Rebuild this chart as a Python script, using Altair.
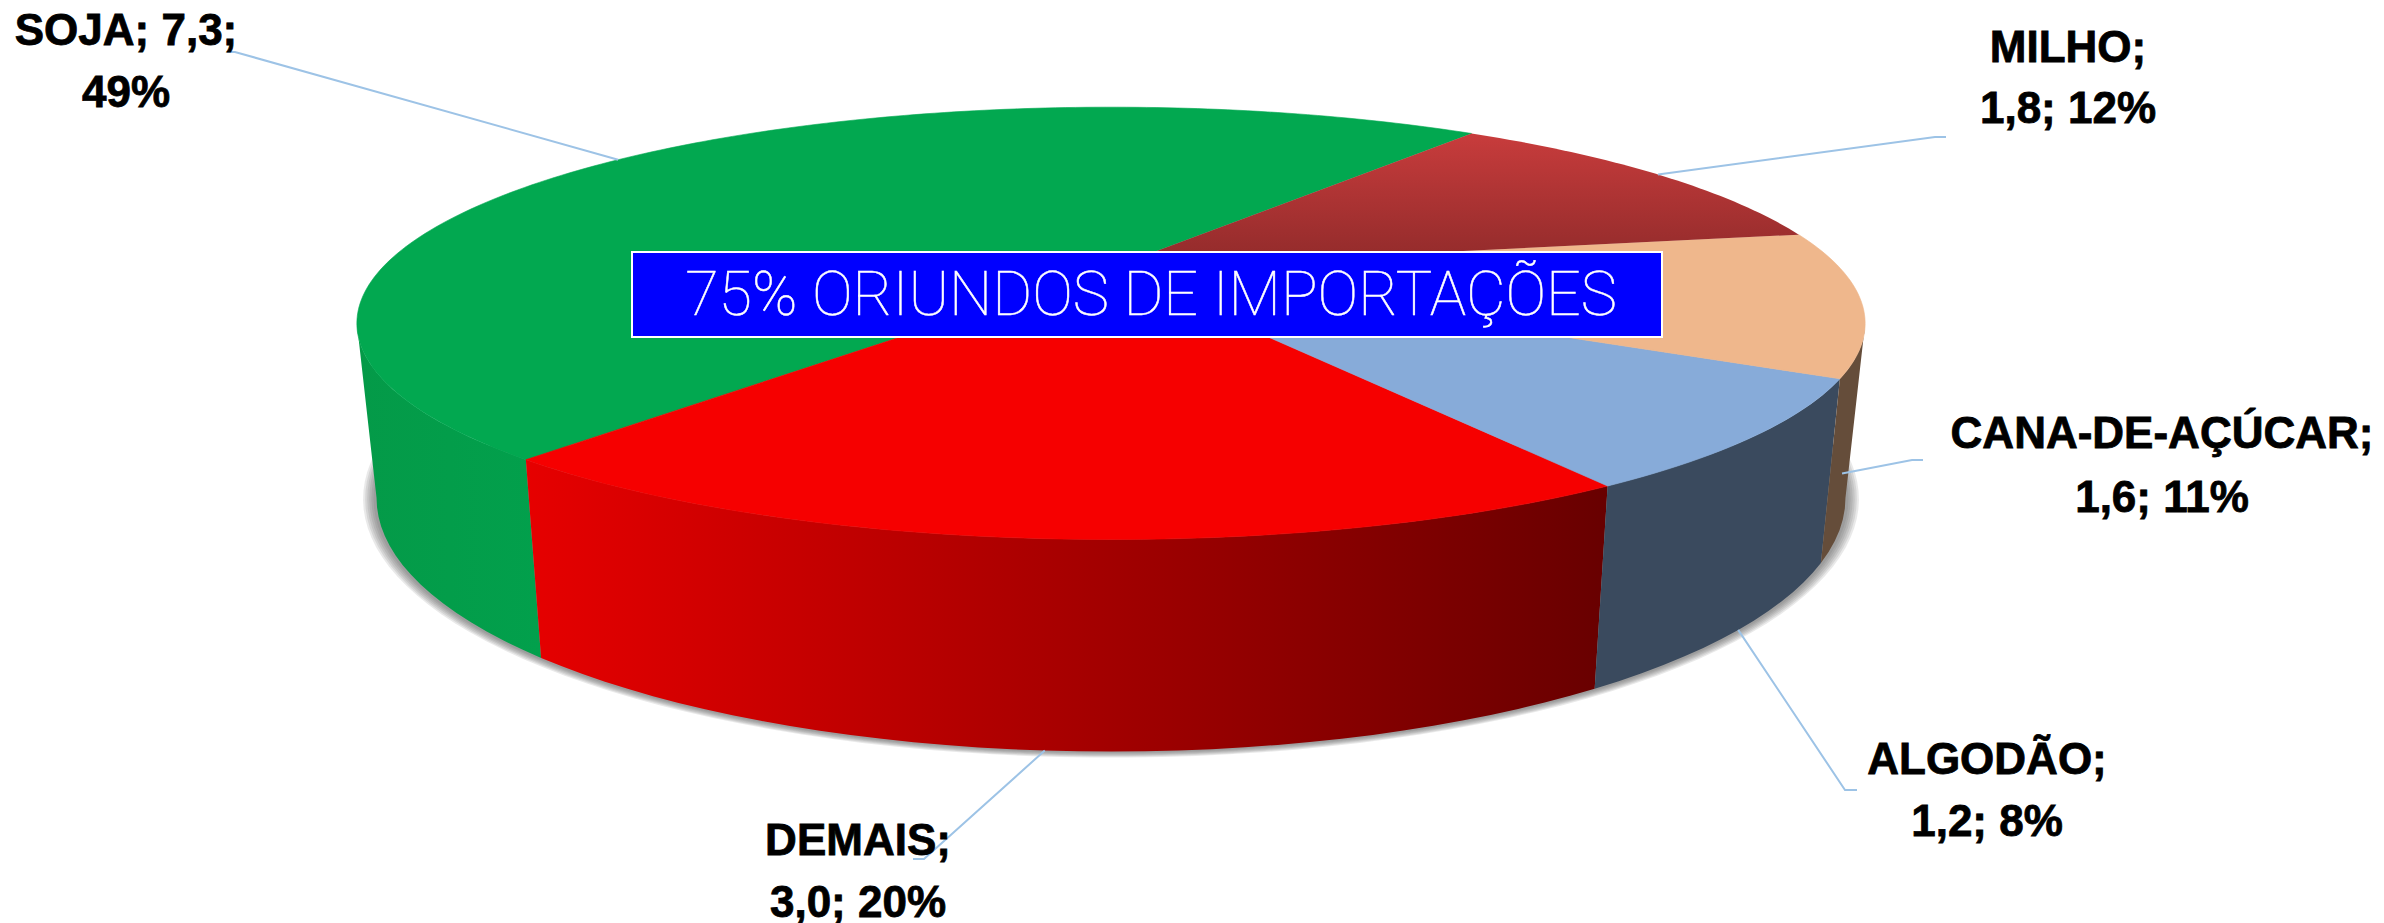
import math
import altair as alt

# --- data -------------------------------------------------------------
categories = ["SOJA", "DEMAIS", "ALGODÃO", "CANA-DE-AÇÚCAR", "MILHO"]
values = [7.3, 3.0, 1.2, 1.6, 1.8]
label_line1 = ["SOJA; 7,3;", "DEMAIS;", "ALGODÃO;", "CANA-DE-AÇÚCAR;", "MILHO;"]
label_line2 = ["49%", "3,0; 20%", "1,2; 8%", "1,6; 11%", "1,8; 12%"]
title_text = "75% ORIUNDOS DE IMPORTAÇÕES"

# --- styles -----------------------------------------------------------
grad = lambda x1, y1, x2, y2, stops: alt.LinearGradient(
    gradient="linear", x1=x1, y1=y1, x2=x2, y2=y2,
    stops=[alt.GradientStop(color=c, offset=o) for o, c in stops])
top_fill = ["#02A850", "#F60000", "#87ABD9", "#EFB78C",
            grad(0, 0, 0, 1, [(0, "#C83C3C"), (1, "#8F2A2A")])]
side_fill = [grad(0, 0, 1, 0, [(0, "#049A48"), (1, "#02A04C")]),
             grad(0, 0, 1, 0, [(0, "#E60000"), (1, "#680000")]),
             "#3A4A5E", "#654D3A", "#8F2A2A"]
LEADER = "#9DC3E6"

# --- layout (page pixels) ---------------------------------------------
W, H, M = 2384, 923, 8
START = 53.4
CX, CY, A, B, P = 1111, 268, 729, 202, 0.256      # top face
BX, BY, BA, BB = 1111, 433, 710, 237              # bottom face
label_x = [126, 858, 1987, 2162, 2068]
base_1 = [45, 855, 774, 448, 62]
base_2 = [107, 917, 836, 512, 123]
elbow = [[(235, 52), (227, 52)], [(924, 859), (913, 859)], [(1845, 790), (1857, 790)],
         [(1912, 460), (1923, 460)], [(1935, 137), (1946, 137)]]
leader_on_bottom = [False, True, True, True, False]
BOX = (632, 252, 1662, 337)
SIDE_MIN, SIDE_MAX = 194.8, 345.2


def proj(deg, ax, ay, aa, ab):
    X, Y = math.cos(math.radians(deg)), math.sin(math.radians(deg))
    w = 1 + P * Y
    return [ax + aa * X / w - M, ay - ab * Y / w - M]


def top(deg):
    return proj(deg, CX, CY, A, B)


def bot(deg):
    return proj(deg, BX, BY, BA, BB)


def arange(a, b, n=2.0):
    k = max(2, int(abs(b - a) / n) + 1)
    return [a + (b - a) * i / (k - 1) for i in range(k)]


def feature(kind, coords):
    return {"type": "Feature", "properties": {},
            "geometry": {"type": kind, "coordinates": coords}}


def shape(feat, **mark):
    return alt.Chart(alt.Data(values=[feat])).mark_geoshape(**mark).project(
        type="identity", scale=1, translate=[0, 0])


# slice boundaries from values
total = sum(values)
spans, a0 = [], START
for v in values:
    a1 = a0 + v / total * 360
    spans.append((a0, a1))
    a0 = a1

layers = []

# shadow
for k in range(6):
    dx, dy = 3 + 2.0 * k, 1 + 0.7 * k
    pts = [proj(d, BX, BY, BA + dx, BB + dy) for d in arange(183, 357)]
    layers.append(shape(feature("Polygon", [pts + [pts[0]]]),
                        fill="#555555", opacity=0.13, strokeWidth=0))

# sides (visible near half only)
for (a, b), fill in zip(spans, side_fill):
    for lo, hi in ((a, b), (a - 360, b - 360), (a + 360, b + 360)):
        s, e = max(lo, SIDE_MIN), min(hi, SIDE_MAX)
        if e > s:
            ds = arange(s, e)
            pts = [top(d) for d in ds] + [bot(d) for d in reversed(ds)]
            layers.append(shape(feature("Polygon", [pts + [pts[0]]]),
                                fill=fill, strokeWidth=0))

# top face
apex = [CX - M, CY - M]
for (a, b), fill in zip(spans, top_fill):
    pts = [apex] + [top(d) for d in arange(a, b, 1.0)] + [apex]
    mk = dict(fill=fill, strokeWidth=0)
    if isinstance(fill, str):
        mk = dict(fill=fill, stroke=fill, strokeWidth=0.6)
    layers.append(shape(feature("Polygon", [pts]), **mk))

# leaders
for (a, b), on_b, el in zip(spans, leader_on_bottom, elbow):
    mid = (a + b) / 2
    start = bot(mid) if on_b else top(mid)
    line = [start] + [[x - M, y - M] for x, y in el]
    layers.append(shape(feature("LineString", line), filled=False,
                        stroke=LEADER, strokeWidth=2))

# title box
x0, y0, x1, y1 = [c - M for c in BOX]
layers.append(shape(feature("Polygon", [[[x0, y0], [x1, y0], [x1, y1], [x0, y1], [x0, y0]]]),
                    fill="#0000FF", stroke="#FFFFFF", strokeWidth=2))

# texts
rows = []
for i in range(len(categories)):
    rows.append({"t": label_line1[i], "lx": label_x[i] - M, "ly": base_1[i] - M})
    rows.append({"t": label_line2[i], "lx": label_x[i] - M, "ly": base_2[i] - M})
layers.append(alt.Chart(alt.Data(values=rows)).mark_text(
    font="Liberation Sans", fontWeight="bold", fontSize=44, color="#000000",
    stroke="#000000", strokeWidth=0.8,
    align="center", baseline="alphabetic").encode(
    longitude="lx:Q", latitude="ly:Q", text="t:N").project(
    type="identity", scale=1, translate=[0, 0]))

layers.append(alt.Chart(alt.Data(values=[{"t": title_text, "lx": (x0 + x1) / 2 + 4, "ly": 315 - M}])).mark_text(
    font="Roboto", fontWeight=100, fontSize=61, color="#FFFFFF",
    stroke="#FFFFFF", strokeWidth=0.5,
    align="center", baseline="alphabetic").encode(
    longitude="lx:Q", latitude="ly:Q", text="t:N").project(
    type="identity", scale=1, translate=[0, 0]))

chart = alt.layer(*layers).properties(
    width=W - 2 * M, height=H - M, padding=0, background="#FFFFFF"
).configure_view(stroke=None)

chart.save("out.html", embed_options={"renderer": "svg", "actions": False})
